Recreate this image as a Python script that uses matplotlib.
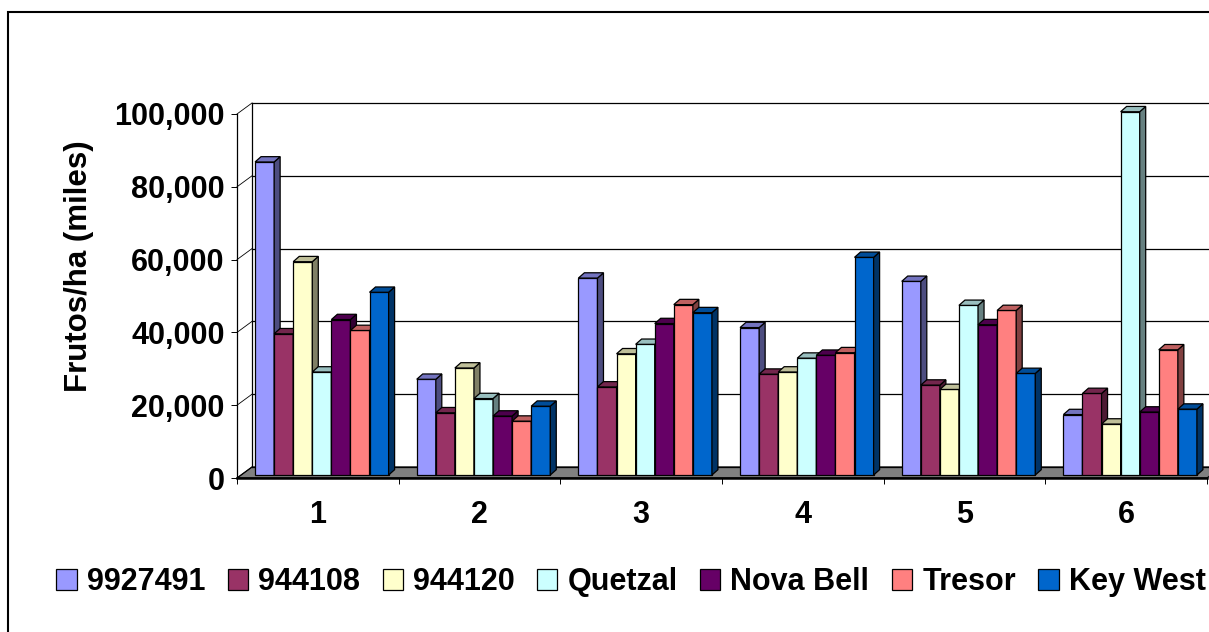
import matplotlib
matplotlib.use("Agg")
import matplotlib.pyplot as plt
from matplotlib.patches import Polygon, Rectangle
from matplotlib.ticker import FuncFormatter
from matplotlib.colors import to_rgb

plt.rcParams['font.family'] = ['Liberation Sans', 'DejaVu Sans']
plt.rcParams['font.weight'] = 'bold'

# ---- data -------------------------------------------------------------
categories = ['1', '2', '3', '4', '5', '6']
series_names = ['9927491', '944108', '944120', 'Quetzal', 'Nova Bell', 'Tresor', 'Key West']

v_9927491 = [86000, 26300, 54100, 40500, 53200, 16600]
v_944108 = [38800, 17100, 24200, 27700, 24700, 22400]
v_944120 = [58600, 29400, 33300, 28300, 23500, 14000]
v_quetzal = [28300, 21000, 35900, 32100, 46600, 99800]
v_nova_bell = [42700, 16200, 41600, 32900, 41300, 17300]
v_tresor = [39700, 14800, 46800, 33600, 45200, 34400]
v_key_west = [50200, 18900, 44600, 59800, 27900, 18100]

series_values = [v_9927491, v_944108, v_944120, v_quetzal,
                 v_nova_bell, v_tresor, v_key_west]
colors = ['#9999FF', '#993366', '#FFFFCC', '#CCFFFF', '#660066', '#FF8080', '#0066CC']

y_ticks = [0, 20000, 40000, 60000, 80000, 100000]
y_label = 'Frutos/ha (miles)'

# ---- figure / front plane ---------------------------------------------
W, H = 1209, 632
fig = plt.figure(figsize=(W / 100, H / 100), dpi=100)
fig.patch.set_facecolor('white')

fx0, fx1 = 237, 1207      # front plane, pixels
fy_top, fy_bot = 114, 478
ax = fig.add_axes([fx0 / W, 1 - fy_bot / H, (fx1 - fx0) / W, (fy_bot - fy_top) / H])
n_cat = len(categories)
y_max = y_ticks[-1]
ax.set_xlim(0, n_cat)
ax.set_ylim(0, y_max)
ax.patch.set_visible(False)

ux = n_cat / (fx1 - fx0)          # data units per pixel (x)
uy = y_max / (fy_bot - fy_top)    # data units per pixel (y)

# depth offsets (pixels converted to data units)
back_dx, back_dy = 15 * ux, 11 * uy      # back wall
bar_dx, bar_dy = 4 * ux, 3 * uy          # bar front faces sit slightly behind
dep_dx, dep_dy = 6 * ux, 5.3 * uy        # bar depth

lw = 0.9

# floor
floor = Polygon([(0, 0), (n_cat, 0), (n_cat + back_dx, back_dy), (back_dx, back_dy)],
                closed=True, facecolor='#808080', edgecolor='black', linewidth=lw,
                clip_on=False, zorder=1)
ax.add_patch(floor)

# back wall gridlines, wall edge and side diagonals
for t in y_ticks:
    ax.plot([back_dx, n_cat + back_dx + 0.2], [t + back_dy, t + back_dy],
            color='black', linewidth=lw, clip_on=False, zorder=2)
    ax.plot([0, back_dx], [t, t + back_dy], color='black', linewidth=0.6,
            clip_on=False, zorder=2)
ax.plot([back_dx, back_dx], [back_dy, y_max + back_dy], color='black',
        linewidth=lw, clip_on=False, zorder=2)

# bars with depth
n_ser = len(series_values)
bw = 0.118
for i, (vals, col) in enumerate(zip(series_values, colors)):
    rgb = to_rgb(col)
    side = tuple(c * 0.5 for c in rgb)
    top = tuple(c * 0.75 for c in rgb)
    xs = [k + 0.5 - n_ser * bw / 2 + i * bw + bar_dx for k in range(n_cat)]
    z = 10 + 3 * i
    ax.bar(xs, vals, width=bw, bottom=bar_dy, align='edge', color=col,
           edgecolor='black', linewidth=lw, zorder=z, clip_on=False)
    for x, v in zip(xs, vals):
        xr = x + bw
        y0, y1 = bar_dy, bar_dy + v
        ax.add_patch(Polygon([(xr, y0), (xr, y1), (xr + dep_dx, y1 + dep_dy),
                              (xr + dep_dx, y0 + dep_dy)], closed=True,
                             facecolor=side, edgecolor='black', linewidth=lw,
                             zorder=z + 1, clip_on=False))
        ax.add_patch(Polygon([(x, y1), (xr, y1), (xr + dep_dx, y1 + dep_dy),
                              (x + dep_dx, y1 + dep_dy)], closed=True,
                             facecolor=top, edgecolor='black', linewidth=lw,
                             zorder=z + 1, clip_on=False))

# axes styling
for s in ['top', 'right']:
    ax.spines[s].set_visible(False)
ax.spines['left'].set_linewidth(lw)
ax.spines['bottom'].set_linewidth(1.8)
ax.spines['left'].set_zorder(3)
ax.spines['bottom'].set_zorder(3)

ax.set_yticks(y_ticks)
ax.yaxis.set_major_formatter(FuncFormatter(lambda v, p: f'{v:,.0f}'))
ax.tick_params(axis='y', length=4.3, width=0.7, pad=4.5, labelsize=22)

ax.set_xticks(range(n_cat + 1))
ax.set_xticklabels([])
ax.set_xticks([k + 0.5 for k in range(n_cat)], minor=True)
ax.set_xticklabels(categories, minor=True)
ax.tick_params(axis='x', which='major', length=4.3, width=0.7)
ax.tick_params(axis='x', which='minor', length=0, pad=15.5, labelsize=22)

ax.set_ylabel(y_label, fontsize=22.5, fontweight='bold')
ax.yaxis.set_label_coords((79 - fx0) / (fx1 - fx0), (fy_bot - 266) / (fy_bot - fy_top))
ax.yaxis.label.set_verticalalignment('center')

# legend
handles = [Rectangle((0, 0), 1, 1, facecolor=c, edgecolor='black', linewidth=lw)
           for c in colors]
fig.legend(handles, series_names, loc='center', bbox_to_anchor=(631 / W, 1 - 582 / H),
           ncol=n_ser, frameon=False, prop={'size': 22, 'weight': 'bold'},
           handlelength=0.66, handleheight=0.66, handletextpad=0.33,
           columnspacing=0.74, borderpad=0, borderaxespad=0)

# chart area border
fig.add_artist(Rectangle((7.5 / W, -0.05), 1.2, 1 - 12 / H + 0.05,
                         transform=fig.transFigure, fill=False,
                         edgecolor='black', linewidth=1.5))

fig.savefig('out.png', dpi=100)
